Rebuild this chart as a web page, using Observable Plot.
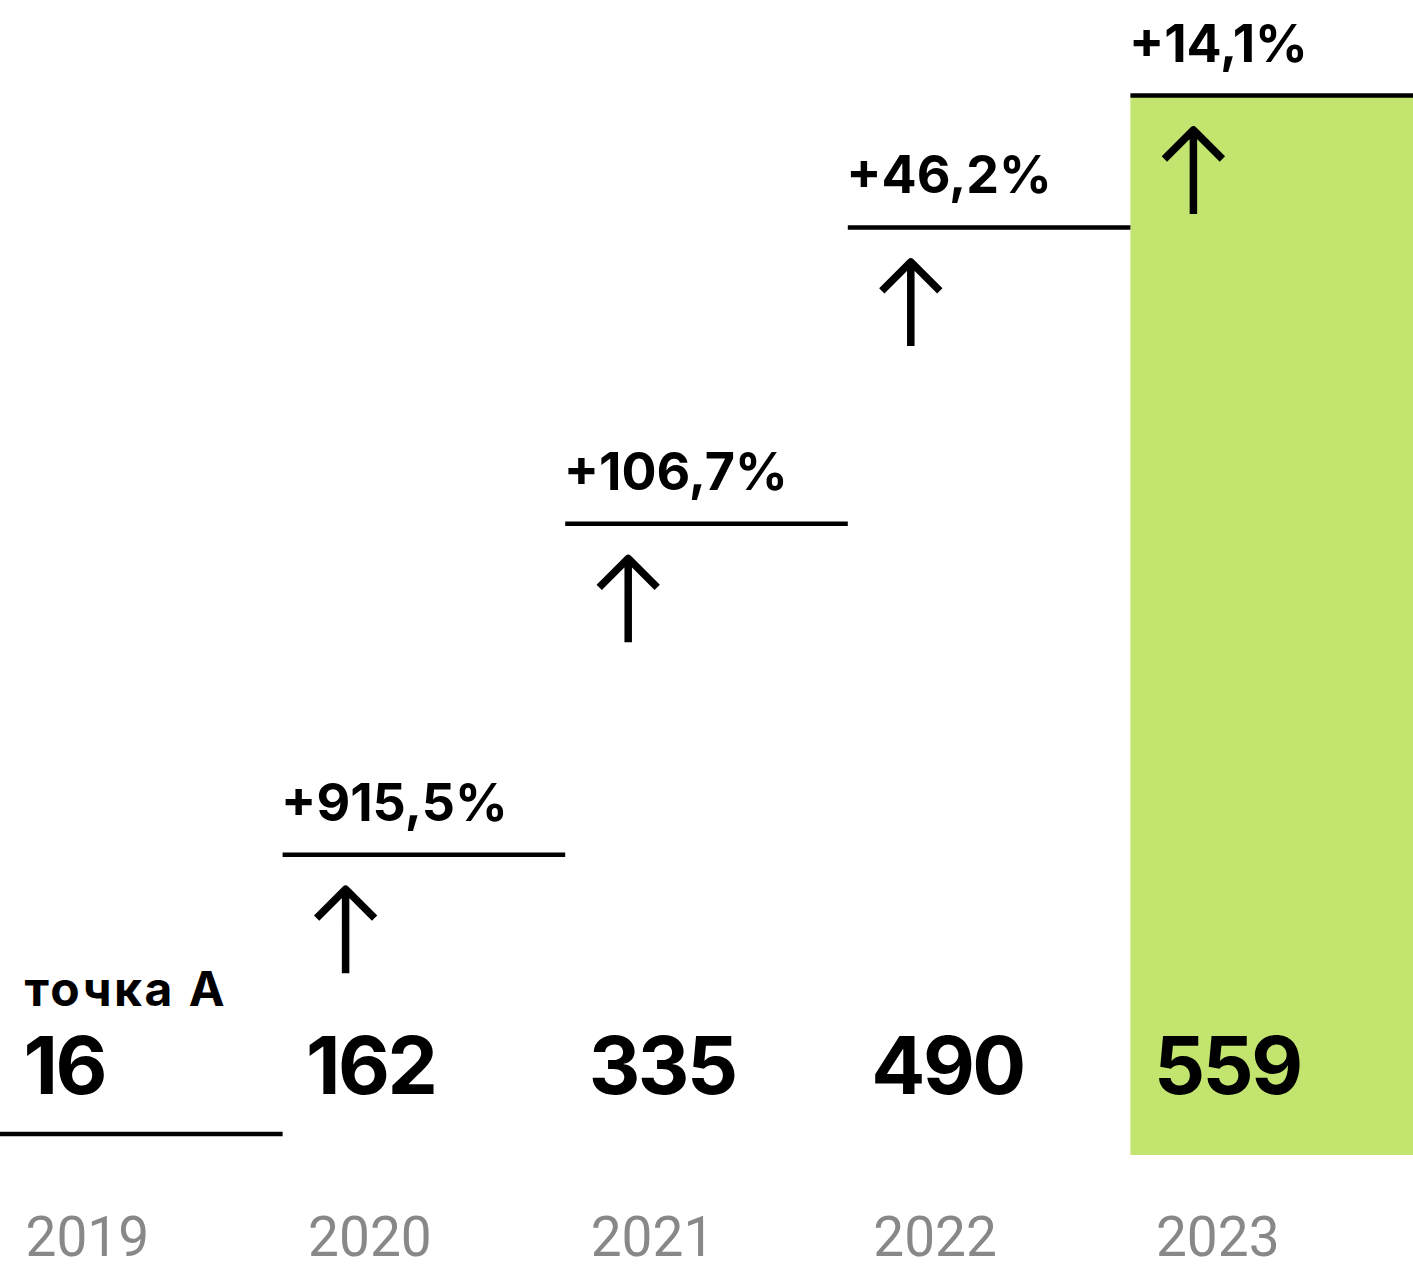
<!DOCTYPE html>
<html>
<head>
<meta charset="utf-8">
<script src="https://cdn.jsdelivr.net/npm/d3@7"></script>
<script src="https://cdn.jsdelivr.net/npm/@observablehq/plot@0.6"></script>
<style>
  html, body { margin: 0; padding: 0; background: #fff; }
  text[aria-label="value-labels"] { letter-spacing: -2.5px; }
  text[aria-label="start-label"] { letter-spacing: 2.5px; }
</style>
</head>
<body>
<div id="chart"></div>
<script>
const years = ["2019", "2020", "2021", "2022", "2023"];
const values = [16, 162, 335, 490, 559];
const growth = ["", "+915,5%", "+106,7%", "+46,2%", "+14,1%"];
const startLabel = "точка А";
const highlightYear = "2023";

const data = years.map((year, i) => ({i, year, value: values[i], growth: growth[i]}));

const arrowShape = {
  draw(context, l) {
    const w = 29;
    context.moveTo(0, 0);
    context.lineTo(0, -l);
    context.moveTo(-w, -l + w);
    context.lineTo(0, -l);
    context.lineTo(w, -l + w);
  }
};

const boldFont = "Inter, 'Noto Sans', sans-serif";

const chart = Plot.plot({
  width: 1413,
  height: 1272,
  marginTop: 90,
  marginBottom: 117,
  marginLeft: 0,
  marginRight: 0,
  x: {domain: [0, years.length], axis: null},
  y: {domain: [0, d3.max(values)], range: [1164, 95], axis: null},
  style: {background: "#fff", fontFamily: boldFont},
  marks: [
    Plot.rect(data.filter(d => d.year === highlightYear), {
      x1: "i", x2: d => d.i + 1, y1: 0, y2: "value", fill: "#c3e56f", clip: true
    }),
    Plot.ruleY(data, {
      y: "value", x1: "i", x2: d => d.i + 1, stroke: "#000", strokeWidth: 4.5
    }),
    Plot.vector(data.filter(d => d.growth), {
      x: "i", y: "value", dx: 62.5, dy: 118.5, length: 84, rotate: 0, anchor: "start",
      shape: arrowShape, stroke: "#000", strokeWidth: 7.5, fill: "none",
      strokeLinecap: "butt", strokeLinejoin: "round"
    }),
    Plot.text(data.filter(d => d.growth), {
      x: "i", y: "value", text: "growth", textAnchor: "start", lineAnchor: "bottom",
      dx: -2, dy: -34, fontSize: 52, fontWeight: 700, fill: "#000"
    }),
    Plot.text(data, {
      x: "i", frameAnchor: "bottom", text: d => String(d.value), textAnchor: "start",
      lineAnchor: "bottom", dx: 23, dy: -62, fontSize: 80, fontWeight: 700, fill: "#000",
      ariaLabel: () => "value-labels"
    }),
    Plot.text([{i: 0, label: startLabel}], {
      x: "i", frameAnchor: "bottom", text: "label", textAnchor: "start",
      lineAnchor: "bottom", dx: 24, dy: -150, fontSize: 48, fontWeight: 700, fill: "#000",
      ariaLabel: () => "start-label"
    }),
    Plot.text(data, {
      x: "i", frameAnchor: "bottom", text: "year", textAnchor: "start",
      lineAnchor: "bottom", dx: 25, dy: 100, fontSize: 55, fontWeight: 400,
      fill: "#888", fontFamily: "Roboto, sans-serif"
    })
  ]
});

document.getElementById("chart").appendChild(chart);
</script>
</body>
</html>
